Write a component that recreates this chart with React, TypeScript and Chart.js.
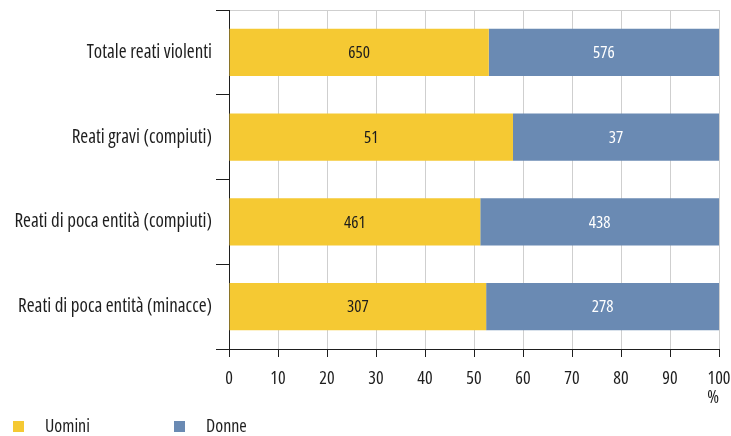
import React, { useEffect, useRef } from "react";
import { Chart, registerables } from "chart.js";

Chart.register(...registerables);

const categories = [
  "Totale reati violenti",
  "Reati gravi (compiuti)",
  "Reati di poca entità (compiuti)",
  "Reati di poca entità (minacce)",
];
const uomini = [650, 51, 461, 307];
const donne = [576, 37, 438, 278];
const seriesLabels = ["Uomini", "Donne"];
const seriesColors = ["#F5C933", "#6A8AB3"];
const labelColors = ["#1c1c1c", "#ffffff"];
const unitLabel = "%";

const FAMILY = "'Open Sans', sans-serif";
const STRETCH = "condensed";
const DARK = "#1e1e1e";
const GRID = "#cfcfcf";

const counts = [uomini, donne];
const pct = (arr: number[]) => arr.map((v, i) => (v / (uomini[i] + donne[i])) * 100);

const valueLabelsPlugin = {
  id: "valueLabels",
  afterDatasetsDraw(chart: any) {
    const ctx = chart.ctx;
    ctx.save();
    ctx.font = `${STRETCH} 17px ${FAMILY}`;
    ctx.textAlign = "center";
    ctx.textBaseline = "middle";
    chart.data.datasets.forEach((ds: any, di: number) => {
      const meta = chart.getDatasetMeta(di);
      meta.data.forEach((el: any, i: number) => {
        ctx.fillStyle = labelColors[di];
        ctx.fillText(String(counts[di][i]), (el.x + el.base) / 2, el.y + 1);
      });
    });
    ctx.restore();
  },
};

const legendPlugin = {
  id: "customLegend",
  afterDraw(chart: any) {
    const ctx = chart.ctx;
    ctx.save();
    ctx.font = `${STRETCH} 18px ${FAMILY}`;
    ctx.textBaseline = "middle";
    ctx.textAlign = "left";
    const y = 426.5;
    seriesLabels.forEach((lab, i) => {
      const x0 = 13 + i * 161;
      ctx.fillStyle = seriesColors[i];
      ctx.fillRect(x0, y - 5.5, 11, 11);
      ctx.fillStyle = DARK;
      ctx.fillText(lab, x0 + 32, y);
    });
    ctx.restore();
  },
};

function zeroPadding(scale: any) {
  scale.paddingLeft = 0;
  scale.paddingRight = 0;
  scale.paddingTop = 0;
  scale.paddingBottom = 0;
}

export default function App() {
  const ref = useRef<HTMLCanvasElement | null>(null);
  useEffect(() => {
    document.body.style.margin = "0";
    const canvas = ref.current!;
    const chart = new Chart(canvas, {
      type: "bar",
      data: {
        labels: categories,
        datasets: seriesLabels.map((lab, i) => ({
          label: lab,
          data: pct(counts[i]),
          backgroundColor: seriesColors[i],
          borderWidth: 0,
          barPercentage: 0.555,
          categoryPercentage: 1,
        })),
      },
      options: {
        indexAxis: "y",
        animation: false,
        responsive: false,
        maintainAspectRatio: false,
        layout: { padding: { top: 10, right: 12, bottom: 0, left: 0 } },
        plugins: {
          legend: { display: false },
          tooltip: { enabled: false },
        },
        scales: {
          x: {
            stacked: true,
            min: 0,
            max: 100,
            ticks: {
              stepSize: 10,
              color: DARK,
              font: { family: FAMILY, size: 18, weight: STRETCH },
              padding: 11,
              maxRotation: 0,
            },
            grid: {
              color: GRID,
              tickColor: DARK,
              tickLength: 8,
              lineWidth: 1,
            },
            border: { color: DARK, width: 1 },
            title: {
              display: true,
              text: unitLabel,
              align: "end",
              color: DARK,
              font: { family: FAMILY, size: 18, weight: STRETCH },
              padding: { top: 0, bottom: 27 },
            },
            afterFit(scale: any) {
              scale.height = 87;
              zeroPadding(scale);
            },
          },
          y: {
            stacked: true,
            ticks: {
              color: DARK,
              font: { family: FAMILY, size: 19, weight: STRETCH },
              padding: 4,
            },
            grid: {
              offset: true,
              color: (c: any) => (c.index === 0 ? GRID : "rgba(0,0,0,0)"),
              tickColor: DARK,
              tickLength: 13,
            },
            border: { color: DARK, width: 1 },
            afterFit(scale: any) {
              scale.width = 229;
              zeroPadding(scale);
            },
          },
        },
      },
      plugins: [valueLabelsPlugin, legendPlugin],
    } as any);
    return () => chart.destroy();
  }, []);
  return (
    <div style={{ position: "absolute", left: 0, top: 0, width: 731, height: 436 }}>
      <canvas ref={ref} width={731} height={436} style={{ width: 731, height: 436 }} />
    </div>
  );
}
